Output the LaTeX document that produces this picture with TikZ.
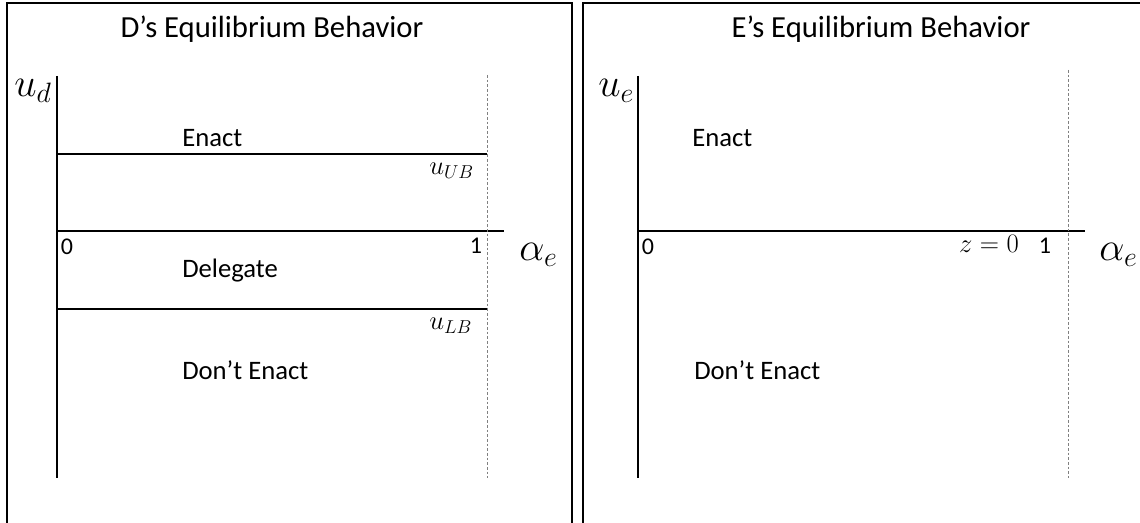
\documentclass[tikz,border=0pt]{standalone}
\usepackage{fix-cm}
\usepackage{fontspec}
\setmainfont{Carlito}
\usepackage{tikz}
\usetikzlibrary{positioning}

\begin{document}
\begin{tikzpicture}[
  x=0.75pt,y=-0.75pt,
  panel/.style={line width=0.9pt},
  axis/.style={line width=1.5pt},
  bound/.style={line width=1.1pt},
  guide/.style={draw=gray,line width=0.6pt,dash pattern=on 2pt off 1.5pt},
  ttl/.style={font=\fontsize{23}{27}\selectfont,anchor=base,inner sep=0pt},
  region/.style={font=\fontsize{20}{24}\selectfont,anchor=base west,inner sep=0pt},
  tick/.style={font=\fontsize{18}{21}\selectfont,anchor=base,inner sep=0pt},
  bigmath/.style={font=\fontsize{30}{36}\selectfont,anchor=base west,inner sep=0pt},
  smallmath/.style={font=\fontsize{20}{24}\selectfont,anchor=base west,inner sep=0pt}
]
\useasboundingbox (0,0) rectangle (1140,523);
\clip (0,0) rectangle (1140,523);
\fill[white] (0,0) rectangle (1140,523);

% panel frames
\draw[panel] (7,540) -- (7,3) -- (572,3) -- (572,540);
\draw[panel] (583,540) -- (583,3) -- (1160,3);

% D's panel
\coordinate (dTop) at (57,76);
\coordinate (dBot) at (57,478);
\coordinate (dO) at (57,231);
\coordinate (dEnd) at (504,231);
\coordinate (dUB) at (57,154);
\coordinate (dLB) at (57,309);
\coordinate (dOne) at (487,75);
\draw[axis] (dTop) -- (dBot);
\draw[axis] (dO) -- (dEnd);
\draw[bound] (dUB) -- (dUB -| dOne);
\draw[bound] (dLB) -- (dLB -| dOne);
\draw[guide] (dOne) -- (dOne |- dBot);

\node[ttl] (tD) at (272,38) {D’s Equilibrium Behavior};
\node[bigmath] (uD) at (14,97) {$u_d$};
\node[bigmath] (aD) at (519,261) {$\alpha_e$};
\node[region] (enD) at (182,147) {Enact};
\node[region] (dlD) at (182,278) {Delegate};
\node[region] (neD) at (182,380) {Don’t Enact};
\node[smallmath] (ub) at (429,175) {$u_{UB}$};
\node[smallmath] (lb) at (429,330) {$u_{LB}$};
\node[tick] (zD) at (67,255) {0};
\node[tick] (oD) at (476,254) {1};

% E's panel
\coordinate (eTop) at (638,76);
\coordinate (eBot) at (638,478);
\coordinate (eO) at (638,231);
\coordinate (eEnd) at (1085,231);
\coordinate (eOne) at (1068,70);
\draw[axis] (eTop) -- (eBot);
\draw[axis] (eO) -- (eEnd);
\draw[guide] (eOne) -- (eOne |- eBot);

\node[ttl] (tE) at (881,38) {E’s Equilibrium Behavior};
\node[bigmath] (uE) at (598,97) {$u_e$};
\node[bigmath] (aE) at (1099,261) {$\alpha_e$};
\node[region] (enE) at (692,147) {Enact};
\node[region] (neE) at (694,380) {Don’t Enact};
\node[smallmath,anchor=base] (z) at (989,253) {$z=0$};
\node[tick] (zE) at (648,255) {0};
\node[tick] (oE) at (1045,254) {1};
\end{tikzpicture}
\end{document}
